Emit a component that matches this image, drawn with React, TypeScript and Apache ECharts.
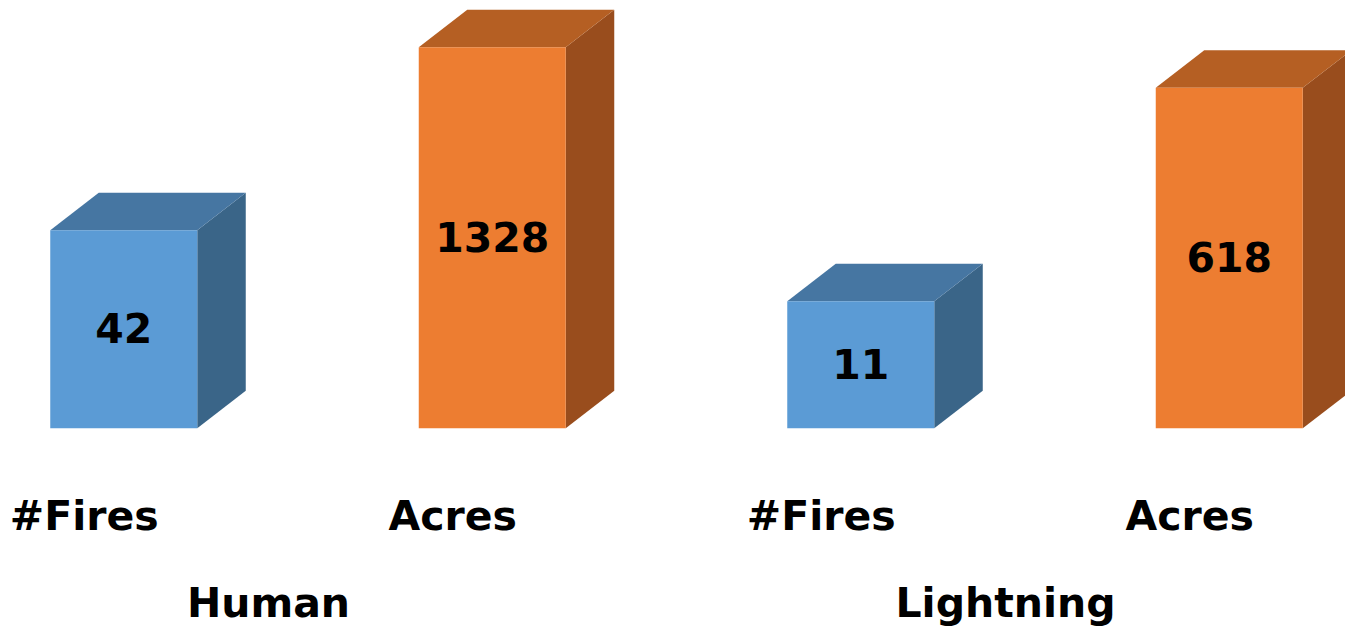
import React, { useEffect, useRef } from "react";
import * as echarts from "echarts";

const categories = ["#Fires", "Acres", "#Fires", "Acres"];
const groups = ["Human", "Lightning"];
const values = [42, 1328, 11, 618];
const kinds = ["fires", "acres", "fires", "acres"];

const palette: Record<string, { front: string; top: string; side: string }> = {
  fires: { front: "#5B9BD5", top: "#4676A2", side: "#3A6588" },
  acres: { front: "#ED7D31", top: "#B55F23", side: "#994D1D" },
};

const FONT = "'DejaVu Sans', 'Liberation Sans', Arial, sans-serif";

export default function App() {
  const ref = useRef<HTMLDivElement>(null);
  useEffect(() => {
    if (!ref.current) return;
    const chart = echarts.init(ref.current, undefined, { renderer: "svg" });
    const data = values.map((v, i) => [i, v]);
    chart.setOption({
      animation: false,
      backgroundColor: "#ffffff",
      grid: {
        left: -100,
        right: -29,
        top: 62.3,
        bottom: 205.7,
        containLabel: false,
        outerBoundsMode: "none",
      },
      xAxis: [
        {
          type: "category",
          data: categories,
          position: "bottom",
          axisLine: { show: false },
          axisTick: { show: false },
          splitLine: { show: false },
          axisLabel: {
            margin: 67,
            fontFamily: FONT,
            fontWeight: "bold",
            fontSize: 41,
            color: "#000",
            interval: 0,
          },
        },
        {
          type: "category",
          data: groups,
          position: "bottom",
          axisLine: { show: false },
          axisTick: { show: false },
          splitLine: { show: false },
          axisLabel: {
            margin: 154,
            fontFamily: FONT,
            fontWeight: "bold",
            fontSize: 41,
            color: "#000",
            interval: 0,
          },
        },
      ],
      yAxis: {
        type: "log",
        logBase: 10,
        min: 1,
        max: 1000,
        show: false,
        splitLine: { show: false },
      },
      series: [
        {
          type: "custom",
          xAxisIndex: 0,
          clip: false,
          data,
          renderItem: (params: any, api: any) => {
            const idx = api.value(0);
            const val = api.value(1);
            const top = api.coord([idx, val]);
            const base = api.coord([idx, 1]);
            const cx = top[0];
            const x0 = cx - 34;
            const x1 = cx + 113;
            const yT = top[1];
            const yB = base[1];
            const dx = 48.5;
            const dy = -37.5;
            const c = palette[kinds[params.dataIndex]];
            return {
              type: "group",
              children: [
                {
                  type: "polygon",
                  shape: { points: [[x1, yT], [x1 + dx, yT + dy], [x1 + dx, yB + dy], [x1, yB]] },
                  style: { fill: c.side },
                },
                {
                  type: "polygon",
                  shape: { points: [[x0, yT], [x0 + dx, yT + dy], [x1 + dx, yT + dy], [x1, yT]] },
                  style: { fill: c.top },
                },
                {
                  type: "rect",
                  shape: { x: x0, y: yT, width: x1 - x0, height: yB - yT },
                  style: { fill: c.front },
                },
                {
                  type: "text",
                  x: (x0 + x1) / 2,
                  y: (yT + yB) / 2,
                  style: {
                    text: String(val),
                    fill: "#000",
                    font: `bold 41px ${FONT}`,
                    align: "center",
                    verticalAlign: "middle",
                  },
                },
              ],
            };
          },
        },
      ],
    });
    return () => chart.dispose();
  }, []);
  return (
    <div
      ref={ref}
      style={{ position: "absolute", left: 0, top: 0, width: 1345, height: 634 }}
    />
  );
}
